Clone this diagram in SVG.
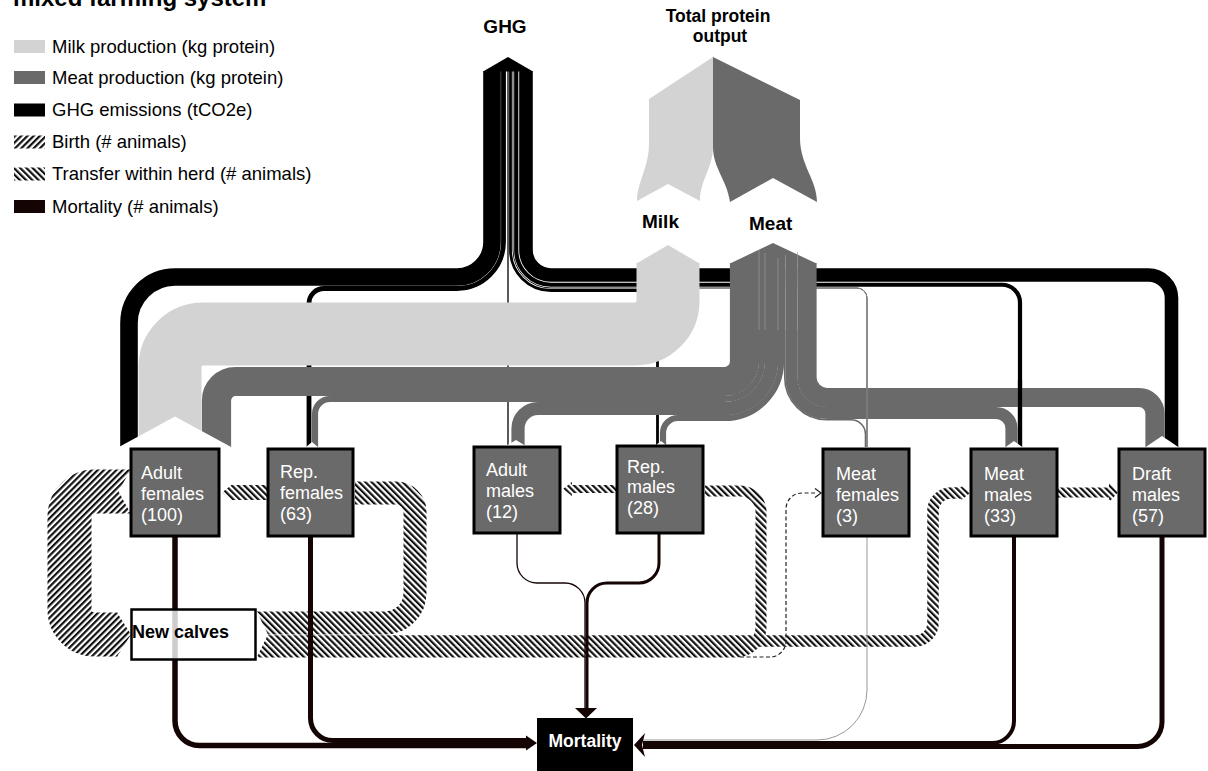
<svg xmlns="http://www.w3.org/2000/svg" width="1208" height="771" viewBox="0 0 1208 771">
<defs>
<pattern id="birth" width="4.4" height="4.4" patternUnits="userSpaceOnUse" patternTransform="rotate(45)"><rect width="4.4" height="4.4" fill="#fff"/><rect width="2.2" height="4.4" fill="#111"/></pattern>
<pattern id="transfer" width="4.4" height="4.4" patternUnits="userSpaceOnUse" patternTransform="rotate(-45)"><rect width="4.4" height="4.4" fill="#fff"/><rect width="2.2" height="4.4" fill="#111"/></pattern>
</defs>
<style>
.t{font-family:"Liberation Sans",Arial,sans-serif}
.lg{font-size:18.5px;fill:#000}
.b{font-weight:bold}
.node rect{fill:#6a6a6a;stroke:#000;stroke-width:3}
.node text{fill:#fff;font-size:18px}
.ghg path{fill:none;stroke:#000}
.milk{fill:none;stroke:#d3d3d3}
.meat path{fill:none;stroke:#6a6a6a}
.mort path{fill:none;stroke:#140404}
.tr{fill:none;stroke:url(#transfer)}
.bi{fill:none;stroke:url(#birth)}
.lbl{font-size:19px;font-weight:bold;fill:#000}
.sep{stroke:#9a9a9a;stroke-width:0.7}
</style>
<rect width="1208" height="771" fill="#fff"/>
<text class="t b" x="13" y="5.5" font-size="24">mixed farming system</text>
<g id="legend">
<rect x="14" y="40" width="31" height="13" fill="#d3d3d3"/>
<rect x="14" y="71" width="31" height="13" fill="#6a6a6a"/>
<rect x="14" y="103.5" width="31" height="13" fill="#000"/>
<rect x="14" y="135.5" width="31" height="13" fill="url(#birth)"/>
<rect x="14" y="167.5" width="31" height="13" fill="url(#transfer)"/>
<rect x="14" y="200" width="31" height="13" fill="#140404"/>
<text class="t lg" x="52" y="52.5">Milk production (kg protein)</text>
<text class="t lg" x="52" y="83.5">Meat production (kg protein)</text>
<text class="t lg" x="52" y="116">GHG emissions (tCO2e)</text>
<text class="t lg" x="52" y="148">Birth (# animals)</text>
<text class="t lg" x="52" y="180">Transfer within herd (# animals)</text>
<text class="t lg" x="52" y="212.5">Mortality (# animals)</text>
</g>
<g id="connectors">
<g class="ghg">
<path d="M492 71V242A35 35 0 0 1 457 277H175A46 46 0 0 0 129 323V447" stroke-width="17.6"/>
<path d="M503.5 71V242A46.5 46.5 0 0 1 457 288.5H324A15 15 0 0 0 309 303.5V447" stroke-width="4.8"/>
<path d="M508 71V445" stroke-width="1.3"/>
<path d="M510.5 71V250A40.5 40.5 0 0 0 551 290.5H645A12.5 12.5 0 0 1 657.5 303V445" stroke-width="2.8"/>
<path d="M513 71V250A38 38 0 0 0 551 288H857A10 10 0 0 1 867 298V447" stroke-width="0.9"/>
<path d="M516.25 71V250A34.75 34.75 0 0 0 551 284.75H1002A18 18 0 0 1 1020 302.75V447" stroke-width="4.2"/>
<path d="M526 71V250A25 25 0 0 0 551 275H1148.5A23 23 0 0 1 1171.5 298V447" stroke-width="13.6"/>
<polygon points="483,71.5 508,57 533,71.5" fill="#000"/>
</g>
<path class="milk" d="M668 263V301A33 33 0 0 1 635 334H203A33 33 0 0 0 170 367V447" stroke-width="63"/>
<polygon points="636.5,263.5 668,245 699.5,263.5" fill="#d3d3d3"/>
<g class="meat">
<path d="M744.5 263V361.5A20 20 0 0 1 724.5 381.5H235.5A19 19 0 0 0 216.5 400.5V447" stroke-width="29.2"/>
<path d="M762 263V361.5A37.5 37.5 0 0 1 724.5 399H330A15 15 0 0 0 315 414V447" stroke-width="6.2"/>
<path d="M771.5 263V361.5A47 47 0 0 1 724.5 408.5H538A20 20 0 0 0 518 428.5V445" stroke-width="13.2"/>
<path d="M781 263V361.5A56.5 56.5 0 0 1 724.5 418H678A15 15 0 0 0 663 433V445" stroke-width="6.2"/>
<path d="M784.75 263V377.5A42.25 42.25 0 0 0 827 419.75H851A14.5 14.5 0 0 1 865.5 434.25V447" stroke-width="1.6"/>
<path d="M791.5 263V377.5A35.5 35.5 0 0 0 827 413H996A15.5 15.5 0 0 1 1011.5 428.5V447" stroke-width="12.2"/>
<path d="M807 263V377.5A20 20 0 0 0 827 397.5H1139A16 16 0 0 1 1155 413.5V447" stroke-width="19.2"/>
<polygon points="730,263.5 773,243 816.5,263.5" fill="#6a6a6a"/>
</g>
<g class="sep">
<line x1="759" y1="250" x2="759" y2="330"/>
<line x1="765" y1="253" x2="765" y2="330"/>
<line x1="778" y1="258" x2="778" y2="330"/>
<line x1="785.5" y1="255" x2="785.5" y2="330"/>
<line x1="797.5" y1="252" x2="797.5" y2="330"/>
</g>
<path d="M817 288H857A10 10 0 0 1 867 298V447" fill="none" stroke="#8a8a8a" stroke-width="1"/>
<path d="M1020 380V447" fill="none" stroke="#000" stroke-width="4.2"/>
<g fill="#fff">
<polygon points="118,447.5 175,416.5 232,447.5"/>
<polygon points="305.5,447.5 312,442 318.5,447.5"/>
<polygon points="506.5,445.5 516,440 525,445.5"/>
<polygon points="655.5,445.5 661,441 666.5,445.5"/>
<polygon points="1005,447.5 1014,441 1023,447.5"/>
<polygon points="1145,447.5 1162,436 1179,447.5"/>
</g>
<path class="bi" d="M130 491.5H94.5A25 25 0 0 0 69.5 516.5V609.5A25 25 0 0 0 94.5 634.5H117.5" stroke-width="44"/>
<polygon points="117,612.5 131,634.5 117,656.5" fill="url(#birth)"/>
<polygon points="131,469 118.5,491.5 131,514" fill="#fff"/>
<path class="tr" d="M267 492.5H231" stroke-width="15"/>
<polygon points="231.5,485 222,492.5 231.5,500" fill="url(#transfer)"/>
<path class="tr" d="M257 623H385A30 30 0 0 0 415 593V512A19 19 0 0 0 396 493H355" stroke-width="23"/>
<path class="tr" d="M257 641H915A18 18 0 0 0 933 623V511A18 18 0 0 1 951 493H962" stroke-width="11.5"/>
<polygon points="961.5,486 970,493 961.5,500" fill="url(#transfer)"/>
<path class="tr" d="M257 652H736A25 25 0 0 0 761 627V512A21 21 0 0 0 740 491H705" stroke-width="11"/>
<polygon points="256,610 268,634.5 256,659" fill="#fff"/>
<path d="M740 657H770A16 16 0 0 0 786 641V509A16 16 0 0 1 802 493H816" fill="none" stroke="#222" stroke-width="1.2" stroke-dasharray="4 2.5"/>
<polyline points="815,488.5 821,493 815,497.5" fill="none" stroke="#222" stroke-width="1.2"/>
<path class="tr" d="M616 489H571" stroke-width="8"/>
<polygon points="572,482 563,489 572,496" fill="url(#transfer)"/>
<path class="tr" d="M1058 492.5H1110" stroke-width="10"/>
<polygon points="1109,483 1118,492.5 1109,502" fill="url(#transfer)"/>
<g class="mort">
<path d="M175 537V721A24.5 24.5 0 0 0 199.5 745.5H528" stroke-width="5.5"/>
<path d="M310.5 537V718A22.5 22.5 0 0 0 333 740.5H528" stroke-width="5"/>
<path d="M517 534V563A20 20 0 0 0 537 583H565A20 20 0 0 1 585 603V709" stroke-width="1.3"/>
<path d="M659 534V563A20 20 0 0 1 639 583H607A20 20 0 0 0 587 603V709" stroke-width="3"/>
<path d="M1014 537V721A22 22 0 0 1 992 743H643" stroke-width="4"/>
<path d="M1162 537V722A24.5 24.5 0 0 1 1137.5 746.5H643" stroke-width="5"/>
</g>
<path d="M867 537V690A50 50 0 0 1 817 740H643" fill="none" stroke="#999" stroke-width="1"/>
<polygon points="526,735.5 537,743 526,750.5" fill="#140404"/>
<polygon points="634,745 645,733 642,745 645,757" fill="#140404"/>
<polygon points="575,708 586,718.5 597,708" fill="#140404"/>
</g>
<g id="total-protein-output">
<path d="M713 57L649 99V143C649 168 637 182 637 201L668 184L700 201C700 180 713 168 713 147Z" fill="#d3d3d3"/>
<path d="M713 57L800 100V138C800 165 817 180 817 202L773 178L730 202C727 180 713 168 713 147Z" fill="#6a6a6a"/>
<text class="t b" x="718" y="22" font-size="17.5" text-anchor="middle">Total protein</text>
<text class="t b" x="720" y="42" font-size="17.5" text-anchor="middle">output</text>
</g>
<g id="ghg"><text class="t lbl" x="505" y="33" text-anchor="middle">GHG</text></g>
<g id="milk"><text class="t lbl" x="642" y="228">Milk</text></g>
<g id="meat"><text class="t lbl" x="749" y="230">Meat</text></g>
<g id="adult-females" class="node"><rect x="131" y="449" width="88" height="87"/><text class="t"><tspan x="141" y="479">Adult</tspan><tspan x="141" y="500">females</tspan><tspan x="141" y="521">(100)</tspan></text></g>
<g id="rep-females" class="node"><rect x="268" y="449" width="85" height="87"/><text class="t"><tspan x="280" y="478">Rep.</tspan><tspan x="280" y="499">females</tspan><tspan x="280" y="520">(63)</tspan></text></g>
<g id="adult-males" class="node"><rect x="474" y="447" width="86" height="86"/><text class="t"><tspan x="486" y="476">Adult</tspan><tspan x="486" y="497">males</tspan><tspan x="486" y="518">(12)</tspan></text></g>
<g id="rep-males" class="node"><rect x="617" y="446" width="86" height="87"/><text class="t"><tspan x="627" y="473">Rep.</tspan><tspan x="627" y="493">males</tspan><tspan x="627" y="514">(28)</tspan></text></g>
<g id="meat-females" class="node"><rect x="823" y="449" width="86" height="87"/><text class="t"><tspan x="836" y="480">Meat</tspan><tspan x="836" y="501">females</tspan><tspan x="836" y="522">(3)</tspan></text></g>
<g id="meat-males" class="node"><rect x="971" y="449" width="86" height="87"/><text class="t"><tspan x="984" y="480">Meat</tspan><tspan x="984" y="501">males</tspan><tspan x="984" y="522">(33)</tspan></text></g>
<g id="draft-males" class="node"><rect x="1119" y="449" width="86" height="87"/><text class="t"><tspan x="1132" y="480">Draft</tspan><tspan x="1132" y="501">males</tspan><tspan x="1132" y="522">(57)</tspan></text></g>
<g id="new-calves"><rect x="131.5" y="609.5" width="124" height="50" fill="#fff" fill-opacity="0.8" stroke="#000" stroke-width="2.5"/><text class="t b" x="132" y="638" font-size="18">New calves</text></g>
<g id="mortality"><rect x="537" y="718" width="96" height="56" fill="#000"/><text class="t b" x="585" y="747" font-size="17.5" fill="#fff" text-anchor="middle">Mortality</text></g>
</svg>
